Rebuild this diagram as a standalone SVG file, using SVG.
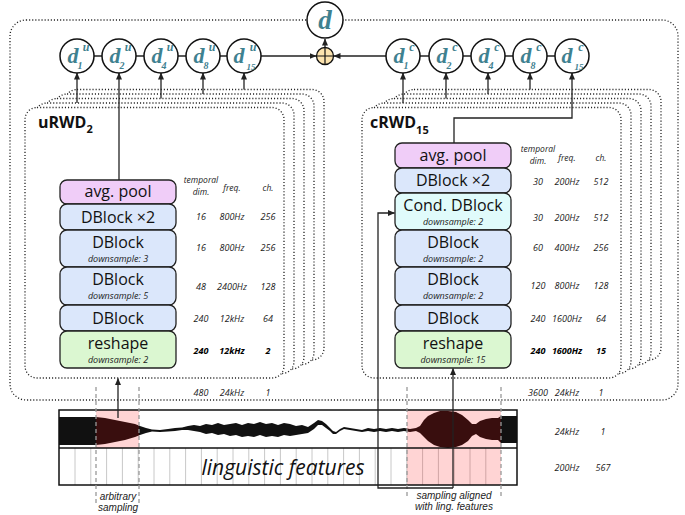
<svg xmlns="http://www.w3.org/2000/svg" width="685" height="515" viewBox="0 0 685 515">
<style>
.dot{fill:#fff;stroke:#222;stroke-width:1.3;stroke-dasharray:1.1 2;}
.dotn{fill:none;stroke:#222;stroke-width:1.3;stroke-dasharray:1.1 2;}
.blk{stroke:#222;stroke-width:1.3;}
.pool{fill:#f0cdf8;}
.db{fill:#dbe7fb;}
.cond{fill:#e0fbfb;}
.rs{fill:#dbf7d1;}
.bt{font-family:"Open Sans","Noto Sans",sans-serif;font-size:16px;fill:#111;text-anchor:middle;}
.sub{font-family:"Open Sans","Noto Sans",sans-serif;font-size:9px;font-style:italic;fill:#222;text-anchor:middle;}
.tb{font-family:"Open Sans","Noto Sans",sans-serif;font-size:9px;font-style:italic;fill:#222;text-anchor:middle;}
.th{font-family:"Open Sans","Noto Sans",sans-serif;font-size:8.5px;font-style:italic;fill:#222;text-anchor:middle;}
.tbb{font-weight:bold;fill:#000;}
.title{font-family:"Open Sans","Noto Sans",sans-serif;font-size:16px;font-weight:bold;fill:#111;}
.circ{fill:#fff;stroke:#111;stroke-width:1.5;}
.dl{font-family:"Liberation Serif",serif;font-weight:bold;font-style:italic;fill:#3f8190;}
.ln{fill:none;stroke:#222;stroke-width:1.3;}
.dash{stroke:#999;stroke-width:1.3;stroke-dasharray:4 3;}
.cap{font-family:"Liberation Sans",Arial,sans-serif;font-size:10px;font-style:italic;fill:#222;text-anchor:middle;}
.grid{stroke:#c8c8c8;stroke-width:1;}
</style>
<defs>
<marker id="ah" markerWidth="7" markerHeight="6" refX="6.5" refY="3" orient="auto" markerUnits="userSpaceOnUse">
<path d="M0,0 L7,3 L0,6 z" fill="#222"/>
</marker>
</defs>

<!-- outer dotted frame -->
<rect class="dotn" x="10" y="20" width="668" height="380" rx="16"/>

<!-- left stack -->
<g id="uRWD-stack">
<rect class="dot" x="65" y="89.5" width="259" height="270.5" rx="12"/>
<rect class="dot" x="55" y="94" width="259" height="270.5" rx="12"/>
<rect class="dot" x="45" y="98.5" width="259" height="270.5" rx="12"/>
<rect class="dot" x="35" y="103" width="259" height="270.5" rx="12"/>
<rect class="dot" x="25" y="107.5" width="259" height="270.5" rx="12"/>
<text class="title" x="38" y="128">uRWD<tspan font-size="11" dy="5">2</tspan></text>
</g>

<!-- right stack -->
<g id="cRWD-stack">
<rect class="dot" x="402" y="89.5" width="259" height="270.5" rx="12"/>
<rect class="dot" x="392" y="94" width="259" height="270.5" rx="12"/>
<rect class="dot" x="382" y="98.5" width="259" height="270.5" rx="12"/>
<rect class="dot" x="372" y="103" width="259" height="270.5" rx="12"/>
<rect class="dot" x="362" y="107.5" width="259" height="270.5" rx="12"/>
<text class="title" x="370" y="128">cRWD<tspan font-size="11" dy="6">15</tspan></text>
</g>

<!-- left blocks -->
<g id="u-avgpool"><rect class="blk pool" x="60" y="180" width="116" height="24" rx="7"/><text class="bt" x="118" y="197">avg. pool</text></g>
<g id="u-dblock2"><rect class="blk db" x="60" y="204" width="116" height="26" rx="7"/><text class="bt" x="118" y="223">DBlock ×2</text></g>
<g id="u-dblock-d3"><rect class="blk db" x="60" y="230" width="116" height="37" rx="7"/><text class="bt" x="118" y="248">DBlock</text><text class="sub" x="118" y="262">downsample: 3</text></g>
<g id="u-dblock-d5"><rect class="blk db" x="60" y="267" width="116" height="38" rx="7"/><text class="bt" x="118" y="285">DBlock</text><text class="sub" x="118" y="299">downsample: 5</text></g>
<g id="u-dblock"><rect class="blk db" x="60" y="305" width="116" height="26" rx="7"/><text class="bt" x="118" y="324">DBlock</text></g>
<g id="u-reshape"><rect class="blk rs" x="60" y="331" width="116" height="37" rx="7"/><text class="bt" x="118" y="349">reshape</text><text class="sub" x="118" y="363">downsample: 2</text></g>

<!-- right blocks -->
<g id="c-avgpool"><rect class="blk pool" x="395" y="143" width="116" height="25" rx="7"/><text class="bt" x="453" y="161">avg. pool</text></g>
<g id="c-dblock2"><rect class="blk db" x="395" y="168" width="116" height="25" rx="7"/><text class="bt" x="453" y="186">DBlock ×2</text></g>
<g id="c-cond"><rect class="blk cond" x="395" y="193" width="116" height="37" rx="7"/><text class="bt" x="453" y="211">Cond. DBlock</text><text class="sub" x="453" y="225">downsample: 2</text></g>
<g id="c-dblock-a"><rect class="blk db" x="395" y="230" width="116" height="37" rx="7"/><text class="bt" x="453" y="248">DBlock</text><text class="sub" x="453" y="262">downsample: 2</text></g>
<g id="c-dblock-b"><rect class="blk db" x="395" y="267" width="116" height="38" rx="7"/><text class="bt" x="453" y="285">DBlock</text><text class="sub" x="453" y="299">downsample: 2</text></g>
<g id="c-dblock"><rect class="blk db" x="395" y="305" width="116" height="26" rx="7"/><text class="bt" x="453" y="324">DBlock</text></g>
<g id="c-reshape"><rect class="blk rs" x="395" y="331" width="116" height="37" rx="7"/><text class="bt" x="453" y="349">reshape</text><text class="sub" x="453" y="363">downsample: 15</text></g>

<!-- tables -->
<g id="u-table">
<text class="th" x="201" y="183">temporal</text><text class="th" x="201" y="195">dim.</text>
<text class="th" x="232" y="191">freq.</text><text class="th" x="268" y="191">ch.</text>
<text class="tb" x="201" y="220">16</text><text class="tb" x="232" y="220">800Hz</text><text class="tb" x="268" y="220">256</text>
<text class="tb" x="201" y="251">16</text><text class="tb" x="232" y="251">800Hz</text><text class="tb" x="268" y="251">256</text>
<text class="tb" x="201" y="290">48</text><text class="tb" x="232" y="290">2400Hz</text><text class="tb" x="268" y="290">128</text>
<text class="tb" x="201" y="322">240</text><text class="tb" x="232" y="322">12kHz</text><text class="tb" x="268" y="322">64</text>
<text class="tb tbb" x="201" y="354">240</text><text class="tb tbb" x="232" y="354">12kHz</text><text class="tb tbb" x="268" y="354">2</text>
<text class="tb" x="201" y="396">480</text><text class="tb" x="232" y="396">24kHz</text><text class="tb" x="268" y="396">1</text>
</g>
<g id="c-table">
<text class="th" x="538" y="152">temporal</text><text class="th" x="538" y="164">dim.</text>
<text class="th" x="567" y="161">freq.</text><text class="th" x="601" y="161">ch.</text>
<text class="tb" x="538" y="185">30</text><text class="tb" x="567" y="185">200Hz</text><text class="tb" x="601" y="185">512</text>
<text class="tb" x="538" y="221">30</text><text class="tb" x="567" y="221">200Hz</text><text class="tb" x="601" y="221">512</text>
<text class="tb" x="538" y="251">60</text><text class="tb" x="567" y="251">400Hz</text><text class="tb" x="601" y="251">256</text>
<text class="tb" x="538" y="289">120</text><text class="tb" x="567" y="289">800Hz</text><text class="tb" x="601" y="289">128</text>
<text class="tb" x="538" y="322">240</text><text class="tb" x="567" y="322">1600Hz</text><text class="tb" x="601" y="322">64</text>
<text class="tb tbb" x="538" y="354">240</text><text class="tb tbb" x="567" y="354">1600Hz</text><text class="tb tbb" x="601" y="354">15</text>
<text class="tb" x="538" y="396">3600</text><text class="tb" x="567" y="396">24kHz</text><text class="tb" x="601" y="396">1</text>
<text class="tb" x="567" y="435">24kHz</text><text class="tb" x="603" y="435">1</text>
<text class="tb" x="567" y="471">200Hz</text><text class="tb" x="603" y="471">567</text>
</g>

<!-- input panel -->
<g id="input">
<line class="grid" x1="75" y1="448" x2="75" y2="485"/><line class="grid" x1="90.8" y1="448" x2="90.8" y2="485"/><line class="grid" x1="106.6" y1="448" x2="106.6" y2="485"/><line class="grid" x1="122.4" y1="448" x2="122.4" y2="485"/><line class="grid" x1="138.2" y1="448" x2="138.2" y2="485"/><line class="grid" x1="154" y1="448" x2="154" y2="485"/><line class="grid" x1="169.8" y1="448" x2="169.8" y2="485"/><line class="grid" x1="185.6" y1="448" x2="185.6" y2="485"/><line class="grid" x1="201.4" y1="448" x2="201.4" y2="485"/><line class="grid" x1="217.2" y1="448" x2="217.2" y2="485"/><line class="grid" x1="233" y1="448" x2="233" y2="485"/><line class="grid" x1="248.8" y1="448" x2="248.8" y2="485"/><line class="grid" x1="264.6" y1="448" x2="264.6" y2="485"/><line class="grid" x1="280.4" y1="448" x2="280.4" y2="485"/><line class="grid" x1="296.2" y1="448" x2="296.2" y2="485"/><line class="grid" x1="312" y1="448" x2="312" y2="485"/><line class="grid" x1="327.8" y1="448" x2="327.8" y2="485"/><line class="grid" x1="343.6" y1="448" x2="343.6" y2="485"/><line class="grid" x1="359.4" y1="448" x2="359.4" y2="485"/><line class="grid" x1="375.2" y1="448" x2="375.2" y2="485"/><line class="grid" x1="391" y1="448" x2="391" y2="485"/><line class="grid" x1="406.8" y1="448" x2="406.8" y2="485"/><line class="grid" x1="422.6" y1="448" x2="422.6" y2="485"/><line class="grid" x1="438.4" y1="448" x2="438.4" y2="485"/><line class="grid" x1="454.2" y1="448" x2="454.2" y2="485"/><line class="grid" x1="470" y1="448" x2="470" y2="485"/><line class="grid" x1="485.8" y1="448" x2="485.8" y2="485"/>
<text x="283" y="475" font-family="'Open Sans','Noto Sans',sans-serif" font-size="21" font-style="italic" fill="#111" text-anchor="middle">linguistic features</text>
<path fill="#111" d="M59,417 L96,417 L105,418 L115,420 L125,422 L135,424 L140,426 L146,428 L152,429.5 L160,430 L168,429 L175,428 L182,427.5 L188,426 L194,425 L200,426 L206,424 L212,425 L218,423 L224,425 L230,424 L236,423 L242,425 L248,423 L254,424 L260,422 L266,424 L272,423 L278,425 L284,423 L290,424 L296,426 L302,425 L308,427 L314,423 L318,420 L322,421 L326,424 L330,428 L333,431 L336,432 L340,429 L344,427 L350,428 L356,429 L362,430 L368,428 L374,429 L380,428 L386,429 L392,428 L398,429 L404,428 L410,429 L416,428 L420,426 L424,420 L428,416 L434,413 L440,411 L448,411 L456,412 L462,415 L468,420 L472,424 L476,424 L480,421 L486,419 L492,418 L498,418 L501,416 L517,416 L517,443 L501,443 L498,440 L492,440 L486,439 L480,437 L476,434 L472,436 L468,441 L462,445 L456,447 L448,448 L440,447 L434,445 L428,441 L424,437 L420,433 L416,431 L410,432 L404,431 L398,432 L392,431 L386,432 L380,431 L374,432 L368,431 L362,432 L356,431 L350,430 L344,429 L340,431 L336,434 L333,434 L330,431 L326,428 L322,425 L318,425 L314,429 L308,433 L302,434 L296,435 L290,436 L284,435 L278,437 L272,436 L266,437 L260,435 L254,437 L248,436 L242,437 L236,435 L230,436 L224,434 L218,435 L212,433 L206,434 L200,432 L194,431 L188,430 L182,430 L175,431 L168,431.5 L160,432 L152,431.5 L146,433 L140,435 L135,437 L125,440 L115,442 L105,444 L96,445 L59,445 Z"/>
<rect x="96" y="410" width="43" height="38" fill="#ff0000" fill-opacity="0.17"/>
<rect x="407" y="410" width="94" height="75" fill="#ff0000" fill-opacity="0.17"/>
<rect x="59" y="410" width="458" height="75" fill="none" stroke="#111" stroke-width="1.5"/>
<line x1="59" y1="448" x2="517" y2="448" stroke="#111" stroke-width="1.5"/>
</g>

<!-- sampling markers -->
<g id="sampling">
<line class="dash" x1="96" y1="387" x2="96" y2="503"/>
<line class="dash" x1="139" y1="387" x2="139" y2="503"/>
<line class="dash" x1="407" y1="387" x2="407" y2="496"/>
<line class="dash" x1="501" y1="387" x2="501" y2="496"/>
<text class="cap" x="118" y="500">arbitrary</text>
<text class="cap" x="118" y="511">sampling</text>
<text class="cap" x="454" y="499">sampling aligned</text>
<text class="cap" x="454" y="510">with ling. features</text>
</g>

<!-- connectors -->
<g id="connectors">
<line class="ln" x1="77" y1="56" x2="316" y2="56" marker-end="url(#ah)"/>
<line class="ln" x1="572" y1="56" x2="334" y2="56" marker-end="url(#ah)"/>
<line class="ln" x1="325" y1="48" x2="325" y2="39" marker-end="url(#ah)"/>
<line class="ln" x1="77" y1="103" x2="77" y2="73" marker-end="url(#ah)"/>
<line class="ln" x1="119" y1="180" x2="119" y2="73" marker-end="url(#ah)"/>
<line class="ln" x1="161" y1="98.5" x2="161" y2="73" marker-end="url(#ah)"/>
<line class="ln" x1="203" y1="94" x2="203" y2="73" marker-end="url(#ah)"/>
<line class="ln" x1="244" y1="89.5" x2="244" y2="73" marker-end="url(#ah)"/>
<line class="ln" x1="403" y1="103" x2="403" y2="73" marker-end="url(#ah)"/>
<line class="ln" x1="446" y1="98.5" x2="446" y2="73" marker-end="url(#ah)"/>
<line class="ln" x1="488" y1="94" x2="488" y2="73" marker-end="url(#ah)"/>
<line class="ln" x1="530" y1="89.5" x2="530" y2="73" marker-end="url(#ah)"/>
<path class="ln" d="M454,143 V118 H572 V73" marker-end="url(#ah)"/>
<line class="ln" x1="118" y1="418" x2="118" y2="378.5" marker-end="url(#ah)"/>
<line class="ln" x1="453" y1="488" x2="453" y2="368.5" marker-end="url(#ah)"/>
<path class="ln" d="M453,488 H378 V213 H394.5" marker-end="url(#ah)"/>
</g>

<!-- output nodes -->
<g id="d"><circle class="circ" cx="325" cy="20" r="18"/><text class="dl" x="325" y="29" font-size="27" text-anchor="middle">d</text></g>
<g id="sum"><circle cx="325" cy="56" r="8.5" fill="#fce3ae" stroke="#111" stroke-width="1.3"/><path d="M316.5,56 H333.5 M325,47.5 V64.5" stroke="#111" stroke-width="1.2"/></g>
<g id="du1"><circle class="circ" cx="77" cy="56" r="17"/><text class="dl" x="73" y="63" font-size="22" text-anchor="middle">d</text><text class="dl" x="86" y="51" font-size="12" text-anchor="middle">u</text><text class="dl" x="80" y="69" font-size="10" text-anchor="middle">1</text></g>
<g id="du2"><circle class="circ" cx="119" cy="56" r="17"/><text class="dl" x="115" y="63" font-size="22" text-anchor="middle">d</text><text class="dl" x="128" y="51" font-size="12" text-anchor="middle">u</text><text class="dl" x="122" y="69" font-size="10" text-anchor="middle">2</text></g>
<g id="du4"><circle class="circ" cx="161" cy="56" r="17"/><text class="dl" x="157" y="63" font-size="22" text-anchor="middle">d</text><text class="dl" x="170" y="51" font-size="12" text-anchor="middle">u</text><text class="dl" x="164" y="69" font-size="10" text-anchor="middle">4</text></g>
<g id="du8"><circle class="circ" cx="203" cy="56" r="17"/><text class="dl" x="199" y="63" font-size="22" text-anchor="middle">d</text><text class="dl" x="212" y="51" font-size="12" text-anchor="middle">u</text><text class="dl" x="206" y="69" font-size="10" text-anchor="middle">8</text></g>
<g id="du15"><circle class="circ" cx="244" cy="56" r="17"/><text class="dl" x="239" y="63" font-size="22" text-anchor="middle">d</text><text class="dl" x="253" y="51" font-size="12" text-anchor="middle">u</text><text class="dl" x="251" y="70" font-size="9" text-anchor="middle">15</text></g>
<g id="dc1"><circle class="circ" cx="403" cy="56" r="17"/><text class="dl" x="399" y="63" font-size="22" text-anchor="middle">d</text><text class="dl" x="412" y="51" font-size="12" text-anchor="middle">c</text><text class="dl" x="406" y="69" font-size="10" text-anchor="middle">1</text></g>
<g id="dc2"><circle class="circ" cx="446" cy="56" r="17"/><text class="dl" x="442" y="63" font-size="22" text-anchor="middle">d</text><text class="dl" x="455" y="51" font-size="12" text-anchor="middle">c</text><text class="dl" x="449" y="69" font-size="10" text-anchor="middle">2</text></g>
<g id="dc4"><circle class="circ" cx="488" cy="56" r="17"/><text class="dl" x="484" y="63" font-size="22" text-anchor="middle">d</text><text class="dl" x="497" y="51" font-size="12" text-anchor="middle">c</text><text class="dl" x="491" y="69" font-size="10" text-anchor="middle">4</text></g>
<g id="dc8"><circle class="circ" cx="530" cy="56" r="17"/><text class="dl" x="526" y="63" font-size="22" text-anchor="middle">d</text><text class="dl" x="539" y="51" font-size="12" text-anchor="middle">c</text><text class="dl" x="533" y="69" font-size="10" text-anchor="middle">8</text></g>
<g id="dc15"><circle class="circ" cx="572" cy="56" r="17"/><text class="dl" x="567" y="63" font-size="22" text-anchor="middle">d</text><text class="dl" x="581" y="51" font-size="12" text-anchor="middle">c</text><text class="dl" x="579" y="70" font-size="9" text-anchor="middle">15</text></g>
</svg>
